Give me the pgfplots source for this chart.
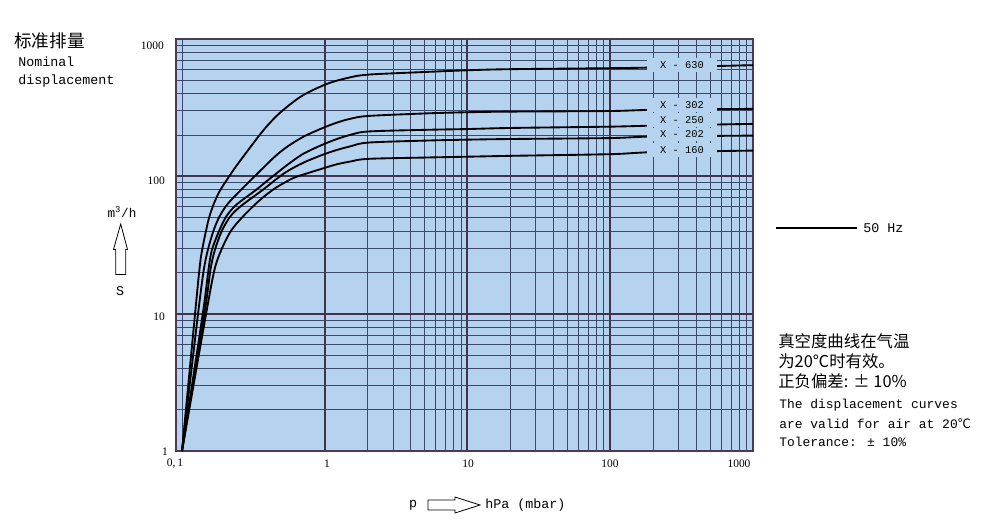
\documentclass[border=0pt]{standalone}
\usepackage{fontspec}
\setmainfont{Liberation Serif}
\newfontfamily\cjk{Noto Sans CJK SC}
\newfontfamily\mono{Liberation Mono}
\usepackage{pgfplots}
\pgfplotsset{compat=1.18}
\definecolor{bgblue}{RGB}{181,211,239}
\definecolor{framecol}{RGB}{77,58,82}
\definecolor{minorcol}{RGB}{58,72,105}
\definecolor{majorcol}{RGB}{68,48,74}

\begin{document}
\begin{tikzpicture}
\begin{loglogaxis}[
    at={(132pt,-338.25pt)}, anchor=south west,
    scale only axis, width=432.75pt, height=309pt,
    xmin=0.0908, xmax=1000, ymin=1, ymax=1000,
    xtick={1,10,100,1000}, ytick={1,10,100,1000},
    extra x ticks={0.1}, extra x tick labels={},
    extra x tick style={major grid style={draw=minorcol, line width=0.5pt}},
    xticklabels={}, yticklabels={},
    major tick length=0pt, minor tick length=0pt,
    grid=both,
    major grid style={draw=majorcol, line width=1.5pt},
    minor grid style={draw=minorcol, line width=0.5pt},
    axis line style={draw=framecol, line width=1.7pt},
    axis background/.style={fill=bgblue},
    curve/.style={black, line width=1.4pt, mark=none, smooth, tension=0.5},
]
% X-630
\addplot[curve] coordinates {
    (0.1,1) (0.1235,10) (0.1324,20.8) (0.1383,29) (0.1557,51) (0.18,75)
    (0.221,105) (0.26,133) (0.37,215) (0.482,288) (0.689,384) (1.03,470)
    (1.44,520) (2,550) (5,575) (10,592) (20,603) (100,613) (200,620) (1000,645)
};
% X-302
\addplot[curve] coordinates {
    (0.1,1) (0.1296,10) (0.1421,20.8) (0.1517,29) (0.166,40) (0.1831,51) (0.209,63) (0.26,80)
    (0.31,96) (0.37,115) (0.45,140) (0.54,163) (0.7,193) (0.94,222)
    (1.2,245) (1.5,262) (2,275) (5,287) (10,293) (20,296) (100,299) (200,305) (1000,310)
};
% X-250
\addplot[curve] coordinates {
    (0.1,1) (0.1399,10) (0.1532,20.8) (0.1619,29) (0.182,40) (0.2042,51) (0.24,62) (0.332,80)
    (0.401,94) (0.459,105) (0.54,120) (0.7,145) (0.94,168) (1.2,186)
    (1.5,200) (2,212) (5,218) (10,221) (20,225) (100,230) (200,234) (1000,241)
};
% X-202
\addplot[curve] coordinates {
    (0.1,1) (0.1436,10) (0.1582,20.8) (0.1699,29) (0.19,40) (0.2178,51) (0.26,61) (0.37,80)
    (0.45,94) (0.54,108) (0.7,125) (0.94,142) (1.2,155) (1.5,165)
    (2,176) (5,182) (10,185) (20,187) (100,190) (200,195) (1000,198)
};
% X-160
\addplot[curve] coordinates {
    (0.1,1) (0.1476,10) (0.1688,20.8) (0.1883,29) (0.22,40) (0.2676,51) (0.35,67)
    (0.45,82) (0.6,97) (0.75,105) (0.94,113) (1.2,122) (1.5,128)
    (2,134) (5,137) (10,139) (20,141) (100,145) (200,150) (1000,154)
};
\end{loglogaxis}

\begin{scope}[x=0.75pt, y=-0.75pt, every node/.style={inner sep=0pt}]
\path (0,0) rectangle (991,529);
% curve labels
\foreach \yy/\lab in {65/630, 105/302, 120/250, 134.5/202, 150/160}
  \node[fill=bgblue, minimum width=52pt, minimum height=10pt, font=\mono\fontsize{7.8}{9}\selectfont]
    at (682,\yy) {X - \lab};
% tick labels
\begin{scope}[every node/.style={inner sep=0pt, font=\fontsize{8.6}{10}\selectfont}]
\node[anchor=east] at (164,46) {1000};
\node[anchor=east] at (165,181) {100};
\node[anchor=east] at (165,317) {10};
\node[anchor=east] at (168,452) {1};
\node at (175,464) {0,\,1};
\node at (327,464) {1};
\node at (468,464) {10};
\node at (610,464) {100};
\node at (739,464) {1000};
\end{scope}
% top left
\node[anchor=west, font=\cjk\fontsize{13.2}{15}\selectfont] at (14,41) {标准排量};
\node[anchor=west, font=\mono\fontsize{10}{12}\selectfont] at (18,62) {Nominal};
\node[anchor=west, font=\mono\fontsize{10}{12}\selectfont] at (18,81) {displacement};
% y unit with arrow
\node[font=\mono\fontsize{9.5}{11}\selectfont] at (122,212) {m\textsuperscript{3}/h};
\draw[line width=0.6pt] (120.7,224) -- (127.5,249.5) -- (125.7,249.5) -- (125.7,274.5)
    -- (115.7,274.5) -- (115.7,249.5) -- (113.5,249.5) -- cycle;
\node[font=\mono\fontsize{10}{12}\selectfont] at (120,291) {S};
% x unit with arrow
\node[font=\mono\fontsize{10}{12}\selectfont] at (413,505) {p};
\draw[line width=0.6pt] (428,500) -- (455,500) -- (455,497) -- (480,505) -- (455,513)
    -- (455,510) -- (428,510) -- cycle;
\node[anchor=west, font=\mono\fontsize{10}{12}\selectfont] at (485,505) {hPa (mbar)};
% legend
\draw[line width=1.4pt] (776,228) -- (857,228);
\node[anchor=west, font=\mono\fontsize{10}{12}\selectfont] at (863,228) {50 Hz};
% notes
\begin{scope}[every node/.style={inner sep=0pt, anchor=west, font=\cjk\fontsize{12.3}{14}\selectfont}]
\node at (778,341) {真空度曲线在气温};
\node at (778,361) {为20℃时有效。};
\node at (778,381) {正负偏差: ± 10\%};
\end{scope}
\begin{scope}[every node/.style={inner sep=0pt, anchor=west, font=\mono\fontsize{9.7}{11}\selectfont}]
\node at (779,405) {The displacement curves};
\node at (779,424) {are valid for air at 20{\cjk ℃}};
\node at (779,442) {Tolerance: ± 10\%};
\end{scope}
\end{scope}
\end{tikzpicture}
\end{document}
